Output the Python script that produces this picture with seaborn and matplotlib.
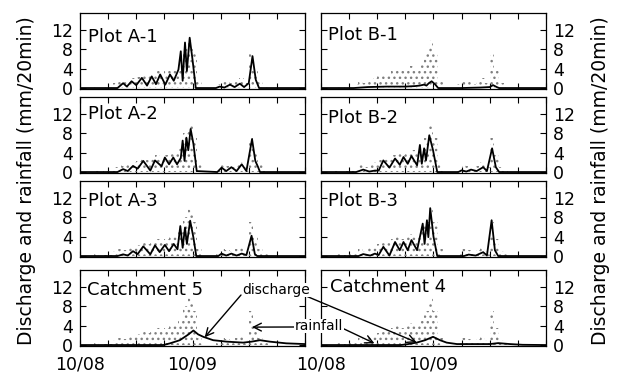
import numpy as np
import matplotlib
matplotlib.use("Agg")
import matplotlib.pyplot as plt
import seaborn as sns

# ---------------- data (hours after 10/08 00:00) ----------------
hours = np.arange(48) + 0.5
rain_A = [0, 0, 0, 0.5, 0, 0.3, 0.3, 1.0, 1.5, 1.2, 1.8, 2.0, 2.2, 3.0, 2.5, 3.0,
          3.5, 3.0, 3.5, 4.0, 4.0, 5.0, 8.0, 10.0, 7.0, 1.5, 0, 0, 0, 0.8, 1.5, 1.2,
          1.0, 1.5, 2.0, 1.0, 7.0, 4.0, 1.5, 0.5, 0, 0, 0, 0, 0, 0, 0, 0]
rain_B = [0, 0, 0, 0.5, 0, 0.3, 0.5, 0.8, 1.5, 1.0, 1.8, 2.0, 2.5, 3.0, 3.0, 3.5,
          4.0, 3.5, 4.0, 4.5, 4.0, 5.0, 7.0, 10.0, 7.0, 1.5, 0, 0, 0, 0.8, 1.5, 1.2,
          0.8, 1.2, 2.0, 1.0, 7.0, 3.5, 1.0, 0.5, 0, 0, 0, 0, 0, 0, 0, 0]

t_A1 = [0, 8.0, 9.2, 10.0, 11.0, 12.0, 13.2, 14.3, 15.3, 16.2, 17.1, 18.2, 19.2, 20.0, 21.0, 21.5, 21.9,
        22.4, 22.8, 23.4, 24.0, 24.7, 29.0, 29.8, 30.8, 32.0, 33.0, 34.1, 35.0, 36.0, 36.8, 37.5, 38.2, 48]
q_A1 = [0, 0, 1.0, 0.3, 1.4, 0.6, 2.1, 0.5, 2.4, 0.8, 2.8, 0.7, 2.8, 1.5, 3.8, 7.6, 1.5,
        9.4, 3.5, 10.4, 5.9, 0, 0, 0.3, 0.1, 0.7, 0.2, 0.9, 0.2, 1.0, 6.6, 1.7, 0, 0]

t_A2 = [0, 8.0, 9.2, 10.2, 11.3, 12.3, 13.5, 15.0, 16.0, 17.4, 18.1, 19.0, 19.9, 20.7, 21.5, 21.9, 22.3,
        22.7, 23.1, 23.6, 24.2, 24.9, 29.3, 30.2, 31.2, 32.3, 33.4, 34.5, 35.5, 36.7, 37.4, 38.0, 38.4, 48]
q_A2 = [0, 0, 0.6, 0.2, 1.25, 0.7, 2.3, 0.3, 2.4, 1.2, 3.0, 1.6, 3.0, 1.6, 2.9, 6.5, 2.3,
        7.1, 4.5, 8.9, 5.8, 0.2, 0, 0.9, 0.2, 1.0, 0.2, 1.6, 0.2, 6.8, 2.3, 1.0, 0, 0]

t_A3 = [0, 8.0, 9.2, 10.2, 11.3, 12.3, 13.5, 15.0, 16.0, 17.0, 18.1, 19.0, 20.0, 20.8, 21.4, 21.9,
        22.4, 22.8, 23.5, 24.2, 24.8, 29.5, 30.2, 31.2, 32.3, 33.4, 34.5, 35.5, 36.6, 37.3, 37.8, 48]
q_A3 = [0, 0, 0.35, 0.1, 1.0, 0.4, 2.0, 0.35, 2.2, 0.8, 2.3, 1.0, 2.5, 1.4, 6.2, 1.7,
        5.9, 2.5, 7.3, 3.8, 0, 0, 0.5, 0.1, 0.5, 0.1, 0.5, 0.2, 4.2, 0.4, 0, 0]

t_B1 = [0, 7.0, 10.0, 14.0, 18.0, 20.0, 21.0, 22.0, 22.5, 23.0, 23.6, 24.3, 25.0,
        30.0, 34.0, 36.0, 36.7, 37.5, 38.0, 48]
q_B1 = [0, 0, 0.2, 0.3, 0.3, 0.4, 0.5, 0.7, 0.5, 1.0, 1.4, 0.8, 0,
        0, 0.1, 0.2, 0.6, 0.2, 0, 0]

t_B2 = [0, 7.5, 9.0, 10.3, 11.5, 12.3, 13.3, 14.6, 15.8, 16.8, 17.6, 18.5, 19.3, 20.5, 21.1, 21.5,
        22.0, 22.4, 23.1, 23.9, 24.8, 29.3, 30.0, 31.0, 32.0, 33.2, 34.6, 35.4, 36.5, 37.3, 38.0, 48]
q_B2 = [0, 0, 0.5, 0.1, 0.3, 0.3, 2.4, 0.9, 2.8, 1.5, 3.1, 1.7, 3.3, 1.4, 5.6, 1.7,
        4.9, 2.4, 7.6, 4.5, 0, 0, 0.35, 0.1, 0.5, 0.2, 1.0, 0.2, 4.9, 1.0, 0, 0]

t_B3 = [0, 8.0, 9.0, 10.5, 11.5, 12.3, 13.3, 14.6, 15.8, 16.8, 17.6, 18.5, 19.3, 20.5, 21.7,
        22.1, 22.6, 22.9, 23.3, 24.0, 24.8, 30.5, 31.5, 33.0, 34.6, 35.4, 36.4, 37.1, 37.8, 48]
q_B3 = [0, 0, 0.4, 0.1, 0.5, 0.2, 1.9, 0.1, 2.9, 1.2, 2.9, 1.2, 3.3, 1.2, 6.7,
        2.5, 7.4, 3.9, 9.9, 4.0, 0, 0, 0.3, 0.1, 0.8, 0.1, 7.4, 1.2, 0, 0]

t_C5 = [0, 17.8, 19.2, 21.3, 23.0, 24.2, 25.2, 26.3, 28.4, 31.3, 34.8, 36.6, 38.4, 40.5, 44.0, 48]
q_C5 = [0, 0, 0.35, 1.0, 2.1, 3.0, 2.2, 1.7, 1.0, 0.7, 0.5, 0.7, 1.0, 0.7, 0.35, 0.2]

t_C4 = [0, 17.0, 18.3, 20.4, 22.2, 23.9, 25.4, 26.8, 29.0, 36.0, 37.8, 40.3, 43.0, 48]
q_C4 = [0, 0, 0.15, 0.5, 1.0, 1.7, 1.0, 0.5, 0.2, 0.2, 0.4, 0.2, 0.05, 0]

titles_left = ["Plot A-1", "Plot A-2", "Plot A-3", "Catchment 5"]
titles_right = ["Plot B-1", "Plot B-2", "Plot B-3", "Catchment 4"]
y_ticks = [0, 4, 8, 12]
x_ticks = [0, 6, 12, 18, 24, 30, 36, 42, 48]
x_ticklabels = ["10/08", "", "", "", "10/09", "", "", "", ""]
ylabel = "Discharge and rainfall (mm/20min)"

# ---------------- figure ----------------
sns.set_theme(style="white")
plt.rcParams["font.family"] = ["DejaVu Sans"]
plt.rcParams["hatch.linewidth"] = 1.0

W, H = 622, 373
fig = plt.figure(figsize=(W / 100, H / 100), dpi=100)

col_left_px = [80, 321]
col_w_px = 225
rows_px = [(13, 89), (97, 173), (181, 257), (270, 346)]

left_series = [(t_A1, q_A1), (t_A2, q_A2), (t_A3, q_A3), (t_C5, q_C5)]
right_series = [(t_B1, q_B1), (t_B2, q_B2), (t_B3, q_B3), (t_C4, q_C4)]
title_y_left = [0.69, 0.77, 0.74, 0.74]
title_y_right = [0.71, 0.72, 0.74, 0.78]
title_x_left = [0.036, 0.036, 0.036, 0.031]
title_x_right = [0.031, 0.031, 0.031, 0.04]

axes = {}
for c in range(2):
    rain = rain_A if c == 0 else rain_B
    series = left_series if c == 0 else right_series
    titles = titles_left if c == 0 else titles_right
    for r in range(4):
        top, bot = rows_px[r]
        ax = fig.add_axes([col_left_px[c] / W, 1 - bot / H, col_w_px / W, (bot - top) / H])
        axes[(c, r)] = ax
        sns.barplot(x=hours, y=rain, native_scale=True, width=1.0, fill=False,
                    color="0.5", hatch="...", linewidth=0, errorbar=None, ax=ax)
        t, q = series[r]
        sns.lineplot(x=t, y=q, color="black", linewidth=1.3, ax=ax)
        ax.set_xlim(0, 48)
        ax.set_ylim(-0.2, 15.5)
        ax.set_xlabel("")
        ax.set_ylabel("")
        ax.set_yticks(y_ticks)
        ax.set_xticks(x_ticks)
        if r == 3:
            ax.set_xticklabels(x_ticklabels, fontsize=12.5)
        else:
            ax.set_xticklabels([])
        ax.tick_params(axis="both", which="major", direction="in", length=4, width=0.8,
                       color="black", top=True, bottom=True, left=True, right=True,
                       labelcolor="black")
        ax.tick_params(axis="x", pad=6.5)
        ax.tick_params(axis="y", labelsize=12.5, pad=5,
                       labelleft=(c == 0), labelright=(c == 1))
        for sp in ax.spines.values():
            sp.set_color("black")
            sp.set_linewidth(0.9)
            sp.set_visible(True)
        tx = title_x_left[r] if c == 0 else title_x_right[r]
        ty = title_y_left[r] if c == 0 else title_y_right[r]
        ax.text(tx, ty, titles[r], transform=ax.transAxes, fontsize=13,
                ha="left", va="center", color="black")

fig.text(0.042, 0.517, ylabel, rotation=90, ha="center", va="center", fontsize=13.5, color="black")
fig.text(0.965, 0.517, ylabel, rotation=90, ha="center", va="center", fontsize=13.5, color="black")

# annotations
arrow = dict(arrowstyle="->", color="black", lw=1.0, mutation_scale=14, shrinkA=0, shrinkB=0)
axL, axR = axes[(0, 3)], axes[(1, 3)]
axL.annotate("", xy=(26.6, 1.6), xycoords="data", xytext=(241 / W, 1 - 295 / H),
             textcoords="figure fraction", arrowprops=arrow, annotation_clip=False)
axR.annotate("", xy=(20.4, 0.55), xycoords="data", xytext=(306 / W, 1 - 296 / H),
             textcoords="figure fraction", arrowprops=arrow, annotation_clip=False)
axL.annotate("", xy=(36.7, 3.7), xycoords="data", xytext=(294 / W, 1 - 327 / H),
             textcoords="figure fraction", arrowprops=arrow, annotation_clip=False)
axR.annotate("", xy=(11.4, 0.35), xycoords="data", xytext=(342 / W, 1 - 328 / H),
             textcoords="figure fraction", arrowprops=arrow, annotation_clip=False)
fig.text(276 / W, 1 - 290 / H, "discharge", ha="center", va="center", fontsize=10, color="black",
         bbox=dict(facecolor="white", edgecolor="none", pad=0.3))
fig.text(319 / W, 1 - 326 / H, "rainfall", ha="center", va="center", fontsize=10, color="black",
         bbox=dict(facecolor="white", edgecolor="none", pad=0.3))

fig.savefig("out.png", dpi=100)
